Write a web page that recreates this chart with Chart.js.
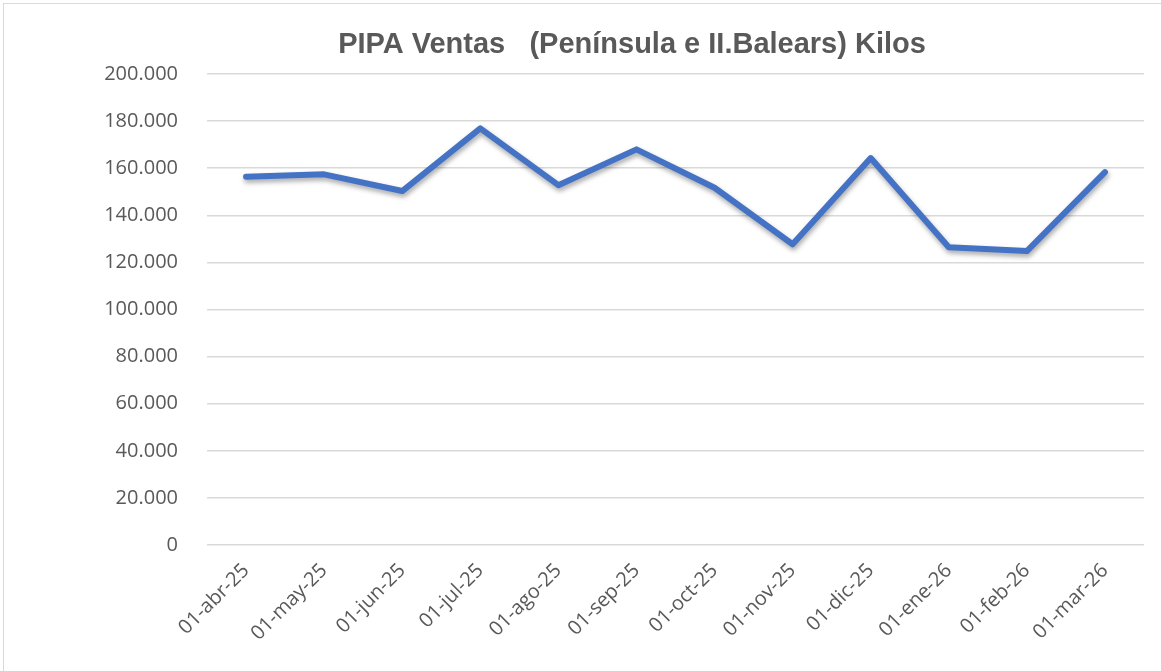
<!DOCTYPE html>
<html>
<head>
<meta charset="utf-8">
<script src="https://cdn.jsdelivr.net/npm/chart.js@4"></script>
<style>
    body { margin: 0; background: #fff; }
    #marco { position: relative; width: 1161px; height: 671px; overflow: hidden; }
    #borde { position: absolute; left: 3px; top: 3px; width: 1300px; height: 800px; border: 1px solid #d9d9d9; pointer-events: none; }
</style>
</head>
<body>
<div id="marco">
    <canvas id="ventasChart" width="1161" height="671"></canvas>
    <div id="borde"></div>
</div>
<script>
// Datos del gráfico
const meses = ['01-abr-25', '01-may-25', '01-jun-25', '01-jul-25', '01-ago-25', '01-sep-25',
               '01-oct-25', '01-nov-25', '01-dic-25', '01-ene-26', '01-feb-26', '01-mar-26'];
const kilos = [156400, 157400, 150300, 176900, 152800, 168000,
               151700, 127700, 164300, 126400, 124800, 158300];
const titulo = 'PIPA Ventas   (Península e II.Balears) Kilos';

// miles con punto
function formatoMiles(v) {
    return String(v).replace(/\B(?=(\d{3})+(?!\d))/g, '.');
}

// Título dibujado a mano (centrado como en Excel)
const tituloPlugin = {
    id: 'tituloPlugin',
    afterDraw(chart) {
        const ctx = chart.ctx;
        ctx.save();
        ctx.font = 'bold 29px "Liberation Sans", Arial, sans-serif';
        ctx.fillStyle = '#595959';
        ctx.textAlign = 'center';
        ctx.textBaseline = 'middle';
        ctx.fillText(titulo, 632, 45);
        ctx.restore();
    }
};

// Sombra suave bajo la línea
const sombraPlugin = {
    id: 'sombraPlugin',
    beforeDatasetDraw(chart) {
        const ctx = chart.ctx;
        ctx.save();
        ctx.shadowColor = 'rgba(0,0,0,0.35)';
        ctx.shadowBlur = 5;
        ctx.shadowOffsetX = 1;
        ctx.shadowOffsetY = 3;
    },
    afterDatasetDraw(chart) {
        chart.ctx.restore();
    }
};

document.addEventListener('DOMContentLoaded', function() {
    const ctx = document.getElementById('ventasChart').getContext('2d');
    new Chart(ctx, {
        type: 'line',
        data: {
            labels: meses,
            datasets: [{
                label: 'Kilos',
                data: kilos,
                borderColor: '#4472c4',
                borderWidth: 6,
                borderCapStyle: 'round',
                borderJoinStyle: 'round',
                pointRadius: 0,
                tension: 0,
                fill: false
            }]
        },
        options: {
            responsive: false,
            animation: false,
            layout: { padding: { top: 74, right: 17, left: 0, bottom: 0 } },
            plugins: {
                legend: { display: false },
                title: { display: false },
                tooltip: { enabled: false }
            },
            scales: {
                x: {
                    offset: true,
                    grid: { display: false },
                    border: { display: false },
                    ticks: {
                        color: '#595959',
                        font: { family: '"Open Sans", sans-serif', size: 20 },
                        maxRotation: 45,
                        minRotation: 45,
                        padding: 6
                    },
                    afterFit(scale) { scale.height = 126; }
                },
                y: {
                    min: 0,
                    max: 200000,
                    grid: { color: '#d9d9d9', lineWidth: 1.5, drawTicks: false },
                    border: { display: false },
                    ticks: {
                        stepSize: 20000,
                        color: '#595959',
                        padding: 29,
                        font: { family: '"Open Sans", sans-serif', size: 20 },
                        callback: function(v) { return formatoMiles(v); }
                    },
                    afterFit(scale) { scale.width = 207; }
                }
            }
        },
        plugins: [tituloPlugin, sombraPlugin]
    });
});
</script>
</body>
</html>
